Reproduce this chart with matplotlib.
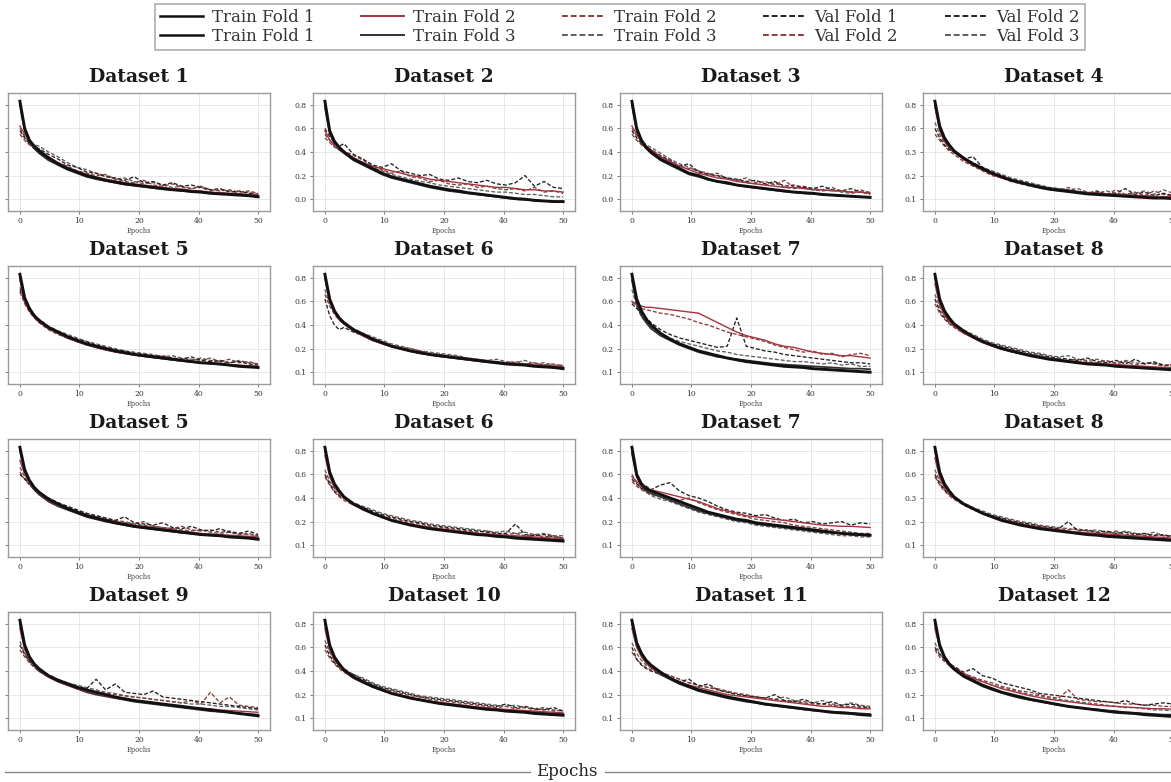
import numpy as np
import matplotlib
matplotlib.use("Agg")
import matplotlib.pyplot as plt
from matplotlib.lines import Line2D

# ---------------- data ----------------
epochs = [0, 1, 2, 3, 4, 6, 8, 10, 12, 14, 16, 18, 20, 22, 24, 26, 28, 30, 32, 34, 36, 38, 40, 42, 44, 46, 48, 50]

titles = ["Dataset 1", "Dataset 2", "Dataset 3", "Dataset 4",
          "Dataset 5", "Dataset 6", "Dataset 7", "Dataset 8",
          "Dataset 5", "Dataset 6", "Dataset 7", "Dataset 8",
          "Dataset 9", "Dataset 10", "Dataset 11", "Dataset 12"]

xtick_labels = ["0", "10", "20", "40", "50"]

ytick_labels = [
    [], ["0.0", "0.2", "0.4", "0.6", "0.8"], ["0.0", "0.2", "0.4", "0.6", "0.8"], ["0.1", "0.2", "0.3", "0.6", "0.8"],
    [], ["0.1", "0.2", "0.4", "0.6", "0.8"], ["0.1", "0.2", "0.4", "0.6", "0.8"], ["0.1", "0.2", "0.4", "0.6", "0.8"],
    [], ["0.1", "0.2", "0.4", "0.6", "0.8"], ["0.1", "0.2", "0.4", "0.6", "0.8"], ["0.1", "0.2", "0.3", "0.6", "0.8"],
    [], ["0.1", "0.2", "0.4", "0.6", "0.8"], ["0.1", "0.2", "0.4", "0.6", "0.8"], ["0.1", "0.2", "0.3", "0.6", "0.8"],
]

legend_labels = ["Train Fold 1", "Train Fold 1", "Train Fold 2", "Train Fold 3", "Train Fold 2",
                 "Train Fold 3", "Val Fold 1", "Val Fold 2", "Val Fold 2", "Val Fold 3"]

train_f1 = [
    [0.83,0.60,0.50,0.45,0.41,0.35,0.30,0.26,0.23,0.20,0.18,0.16,0.145,0.13,0.12,0.11,0.10,0.09,0.08,0.075,0.065,0.06,0.05,0.045,0.04,0.035,0.03,0.02],
    [0.83,0.58,0.49,0.44,0.40,0.34,0.30,0.26,0.22,0.19,0.17,0.15,0.13,0.11,0.095,0.08,0.07,0.055,0.045,0.035,0.025,0.015,0.005,0.0,-0.01,-0.015,-0.02,-0.02],
    [0.83,0.60,0.50,0.44,0.40,0.34,0.30,0.26,0.22,0.20,0.17,0.15,0.14,0.12,0.11,0.10,0.09,0.08,0.07,0.06,0.055,0.05,0.04,0.035,0.03,0.025,0.02,0.015],
    [0.83,0.62,0.52,0.46,0.41,0.35,0.30,0.26,0.22,0.19,0.16,0.14,0.12,0.10,0.085,0.075,0.065,0.055,0.045,0.04,0.035,0.03,0.025,0.02,0.015,0.01,0.01,0.005],
    [0.83,0.63,0.54,0.48,0.44,0.38,0.34,0.30,0.27,0.24,0.22,0.20,0.18,0.165,0.15,0.14,0.13,0.12,0.11,0.10,0.09,0.08,0.075,0.07,0.06,0.05,0.045,0.04],
    [0.83,0.62,0.52,0.46,0.42,0.36,0.32,0.28,0.25,0.22,0.20,0.18,0.165,0.15,0.14,0.13,0.12,0.11,0.10,0.09,0.08,0.07,0.065,0.06,0.05,0.045,0.04,0.03],
    [0.83,0.62,0.52,0.45,0.40,0.33,0.28,0.24,0.21,0.18,0.16,0.14,0.12,0.105,0.09,0.08,0.07,0.06,0.05,0.045,0.04,0.03,0.025,0.02,0.015,0.01,0.005,0.0],
    [0.83,0.62,0.52,0.46,0.41,0.35,0.30,0.26,0.23,0.20,0.18,0.16,0.14,0.125,0.11,0.10,0.09,0.08,0.07,0.065,0.06,0.05,0.045,0.04,0.035,0.03,0.025,0.02],
    [0.83,0.64,0.55,0.49,0.45,0.39,0.35,0.31,0.28,0.25,0.23,0.21,0.19,0.175,0.16,0.15,0.14,0.13,0.12,0.11,0.10,0.09,0.085,0.08,0.07,0.065,0.06,0.05],
    [0.83,0.62,0.52,0.46,0.41,0.35,0.31,0.27,0.24,0.21,0.19,0.17,0.155,0.14,0.13,0.12,0.11,0.10,0.09,0.085,0.075,0.07,0.06,0.055,0.05,0.045,0.04,0.035],
    [0.83,0.60,0.52,0.48,0.46,0.43,0.40,0.37,0.34,0.31,0.28,0.26,0.24,0.22,0.21,0.19,0.18,0.17,0.16,0.15,0.14,0.13,0.12,0.11,0.10,0.095,0.09,0.085],
    [0.83,0.62,0.52,0.46,0.41,0.35,0.31,0.27,0.24,0.21,0.19,0.17,0.155,0.14,0.13,0.12,0.11,0.10,0.09,0.085,0.075,0.07,0.065,0.06,0.055,0.05,0.045,0.04],
    [0.83,0.62,0.52,0.46,0.42,0.36,0.32,0.29,0.26,0.24,0.22,0.20,0.18,0.165,0.15,0.14,0.13,0.12,0.11,0.10,0.09,0.08,0.07,0.06,0.05,0.04,0.03,0.02],
    [0.83,0.62,0.52,0.46,0.41,0.35,0.31,0.27,0.24,0.21,0.19,0.17,0.155,0.14,0.125,0.115,0.105,0.095,0.085,0.075,0.07,0.06,0.055,0.05,0.04,0.035,0.03,0.025],
    [0.83,0.64,0.55,0.49,0.45,0.39,0.34,0.30,0.27,0.24,0.22,0.20,0.18,0.165,0.15,0.135,0.12,0.11,0.10,0.09,0.08,0.07,0.06,0.05,0.045,0.04,0.03,0.025],
    [0.83,0.62,0.52,0.46,0.42,0.36,0.32,0.28,0.25,0.22,0.20,0.18,0.16,0.145,0.13,0.115,0.10,0.09,0.08,0.07,0.06,0.05,0.045,0.04,0.03,0.025,0.02,0.015],
]

train_f2 = [
    [0.62,0.55,0.49,0.45,0.42,0.36,0.31,0.27,0.24,0.21,0.19,0.17,0.155,0.14,0.13,0.12,0.11,0.10,0.09,0.085,0.075,0.07,0.06,0.055,0.05,0.045,0.04,0.035],
    [0.58,0.50,0.46,0.43,0.40,0.35,0.31,0.28,0.26,0.24,0.22,0.20,0.19,0.17,0.16,0.15,0.14,0.13,0.12,0.11,0.10,0.10,0.09,0.08,0.08,0.07,0.07,0.06],
    [0.62,0.55,0.49,0.45,0.42,0.36,0.32,0.28,0.25,0.22,0.20,0.18,0.17,0.15,0.14,0.13,0.12,0.11,0.10,0.10,0.09,0.08,0.08,0.07,0.07,0.06,0.06,0.05],
    [0.78,0.58,0.49,0.44,0.40,0.34,0.29,0.25,0.21,0.18,0.16,0.14,0.12,0.105,0.09,0.08,0.07,0.06,0.055,0.05,0.045,0.04,0.035,0.03,0.03,0.025,0.02,0.02],
    [0.78,0.60,0.52,0.47,0.43,0.37,0.33,0.29,0.26,0.23,0.21,0.19,0.17,0.16,0.145,0.135,0.125,0.115,0.105,0.095,0.085,0.08,0.075,0.07,0.065,0.06,0.055,0.05],
    [0.79,0.60,0.51,0.45,0.41,0.35,0.31,0.27,0.24,0.215,0.195,0.175,0.16,0.145,0.135,0.125,0.115,0.105,0.095,0.09,0.08,0.075,0.07,0.065,0.06,0.055,0.05,0.045],
    [0.60,0.57,0.56,0.55,0.55,0.54,0.53,0.52,0.51,0.50,0.46,0.42,0.38,0.34,0.31,0.29,0.27,0.24,0.22,0.21,0.19,0.17,0.16,0.15,0.14,0.14,0.13,0.12],
    [0.75,0.57,0.48,0.43,0.39,0.33,0.29,0.25,0.22,0.195,0.175,0.155,0.14,0.125,0.115,0.105,0.095,0.085,0.08,0.075,0.07,0.065,0.06,0.055,0.05,0.045,0.04,0.04],
    [0.72,0.60,0.53,0.48,0.44,0.38,0.34,0.31,0.28,0.255,0.235,0.215,0.20,0.185,0.17,0.16,0.15,0.14,0.13,0.12,0.11,0.10,0.095,0.09,0.085,0.08,0.075,0.07],
    [0.76,0.58,0.49,0.44,0.40,0.34,0.30,0.27,0.24,0.215,0.195,0.18,0.165,0.15,0.14,0.13,0.12,0.11,0.10,0.095,0.09,0.085,0.08,0.075,0.07,0.065,0.06,0.055],
    [0.58,0.54,0.50,0.48,0.47,0.45,0.43,0.41,0.39,0.37,0.34,0.31,0.29,0.27,0.25,0.24,0.23,0.22,0.21,0.20,0.19,0.18,0.17,0.165,0.16,0.16,0.155,0.15],
    [0.74,0.57,0.49,0.44,0.40,0.35,0.31,0.27,0.24,0.22,0.20,0.18,0.165,0.15,0.14,0.13,0.12,0.11,0.105,0.10,0.095,0.09,0.085,0.08,0.075,0.07,0.065,0.06],
    [0.76,0.58,0.50,0.45,0.41,0.35,0.31,0.28,0.25,0.23,0.21,0.19,0.17,0.16,0.15,0.14,0.13,0.12,0.11,0.10,0.09,0.085,0.08,0.07,0.065,0.06,0.055,0.05],
    [0.76,0.58,0.49,0.44,0.40,0.34,0.30,0.27,0.24,0.215,0.195,0.175,0.16,0.145,0.135,0.125,0.115,0.105,0.095,0.09,0.08,0.075,0.07,0.065,0.06,0.055,0.05,0.045],
    [0.76,0.60,0.52,0.47,0.43,0.38,0.34,0.31,0.28,0.26,0.24,0.22,0.20,0.19,0.18,0.17,0.16,0.15,0.14,0.13,0.12,0.11,0.10,0.10,0.09,0.09,0.08,0.08],
    [0.76,0.60,0.52,0.47,0.43,0.38,0.34,0.31,0.28,0.25,0.23,0.21,0.19,0.175,0.16,0.15,0.14,0.13,0.12,0.11,0.105,0.10,0.095,0.09,0.085,0.08,0.08,0.075],
]

train_f3 = [
    [0.80,0.58,0.48,0.43,0.39,0.33,0.29,0.25,0.22,0.19,0.17,0.155,0.14,0.125,0.115,0.105,0.095,0.085,0.08,0.07,0.065,0.06,0.055,0.05,0.045,0.04,0.035,0.03],
    [0.78,0.56,0.47,0.42,0.39,0.33,0.29,0.25,0.21,0.18,0.16,0.14,0.12,0.10,0.085,0.07,0.06,0.05,0.04,0.03,0.02,0.01,0.0,-0.005,-0.01,-0.015,-0.02,-0.025],
    [0.80,0.58,0.48,0.43,0.39,0.33,0.29,0.25,0.21,0.19,0.165,0.15,0.13,0.12,0.105,0.095,0.085,0.075,0.065,0.06,0.05,0.045,0.04,0.035,0.03,0.025,0.02,0.02],
    [0.80,0.60,0.50,0.44,0.40,0.34,0.29,0.25,0.22,0.19,0.165,0.145,0.125,0.11,0.095,0.085,0.075,0.065,0.055,0.05,0.045,0.04,0.035,0.03,0.025,0.02,0.02,0.015],
    [0.80,0.61,0.53,0.47,0.43,0.37,0.33,0.29,0.26,0.235,0.21,0.19,0.175,0.16,0.15,0.135,0.125,0.115,0.105,0.095,0.09,0.08,0.075,0.065,0.06,0.055,0.05,0.045],
    [0.81,0.61,0.51,0.45,0.41,0.35,0.31,0.27,0.245,0.22,0.20,0.18,0.16,0.15,0.135,0.125,0.115,0.105,0.095,0.085,0.08,0.07,0.065,0.06,0.055,0.05,0.045,0.04],
    [0.78,0.58,0.48,0.42,0.37,0.31,0.27,0.23,0.20,0.17,0.15,0.13,0.12,0.11,0.10,0.09,0.08,0.07,0.065,0.06,0.055,0.05,0.045,0.04,0.035,0.03,0.03,0.025],
    [0.80,0.60,0.50,0.44,0.40,0.34,0.30,0.26,0.225,0.20,0.175,0.16,0.145,0.13,0.115,0.105,0.095,0.085,0.075,0.07,0.065,0.06,0.05,0.045,0.04,0.035,0.03,0.03],
    [0.80,0.62,0.53,0.47,0.43,0.37,0.33,0.30,0.27,0.24,0.22,0.20,0.185,0.17,0.155,0.145,0.135,0.125,0.115,0.105,0.10,0.09,0.085,0.08,0.075,0.07,0.065,0.06],
    [0.80,0.60,0.50,0.45,0.40,0.35,0.30,0.27,0.24,0.21,0.19,0.175,0.16,0.145,0.135,0.125,0.115,0.105,0.095,0.09,0.08,0.075,0.07,0.065,0.06,0.055,0.05,0.045],
    [0.78,0.58,0.50,0.46,0.44,0.41,0.38,0.35,0.32,0.29,0.27,0.25,0.23,0.21,0.20,0.18,0.17,0.16,0.15,0.14,0.13,0.12,0.11,0.105,0.10,0.09,0.085,0.08],
    [0.80,0.60,0.50,0.45,0.40,0.35,0.31,0.27,0.24,0.215,0.195,0.175,0.16,0.145,0.135,0.125,0.115,0.105,0.095,0.09,0.085,0.08,0.075,0.07,0.065,0.06,0.055,0.05],
    [0.80,0.60,0.50,0.45,0.40,0.35,0.31,0.28,0.25,0.22,0.20,0.185,0.17,0.155,0.14,0.13,0.12,0.11,0.10,0.09,0.08,0.07,0.06,0.055,0.05,0.04,0.035,0.03],
    [0.80,0.60,0.50,0.45,0.40,0.34,0.30,0.265,0.235,0.21,0.19,0.17,0.155,0.14,0.13,0.12,0.11,0.10,0.09,0.08,0.075,0.065,0.06,0.055,0.05,0.045,0.04,0.035],
    [0.80,0.62,0.53,0.47,0.43,0.37,0.33,0.29,0.26,0.23,0.21,0.19,0.17,0.155,0.14,0.13,0.115,0.105,0.095,0.085,0.075,0.065,0.06,0.055,0.05,0.045,0.04,0.035],
    [0.80,0.60,0.51,0.45,0.41,0.35,0.31,0.27,0.24,0.215,0.19,0.17,0.155,0.14,0.125,0.11,0.10,0.09,0.08,0.075,0.065,0.06,0.05,0.045,0.04,0.035,0.03,0.03],
]

val_f1 = [
    [0.58,0.52,0.47,0.44,0.43,0.38,0.34,0.29,0.27,0.23,0.22,0.19,0.18,0.16,0.19,0.14,0.15,0.12,0.14,0.11,0.12,0.10,0.08,0.09,0.06,0.07,0.05,0.04],
    [0.60,0.53,0.48,0.45,0.47,0.38,0.34,0.29,0.27,0.30,0.24,0.22,0.20,0.21,0.17,0.16,0.18,0.15,0.14,0.16,0.13,0.12,0.14,0.20,0.11,0.15,0.10,0.09],
    [0.58,0.52,0.47,0.44,0.42,0.37,0.33,0.28,0.30,0.23,0.21,0.20,0.18,0.17,0.15,0.16,0.13,0.15,0.11,0.12,0.10,0.09,0.11,0.08,0.07,0.09,0.06,0.06],
    [0.60,0.52,0.46,0.42,0.40,0.34,0.36,0.27,0.23,0.20,0.17,0.15,0.13,0.11,0.09,0.08,0.07,0.06,0.05,0.07,0.04,0.05,0.09,0.04,0.06,0.03,0.05,0.03],
    [0.70,0.60,0.52,0.47,0.44,0.38,0.35,0.31,0.28,0.26,0.23,0.21,0.19,0.18,0.16,0.15,0.14,0.13,0.12,0.11,0.13,0.10,0.09,0.10,0.08,0.09,0.07,0.06],
    [0.62,0.48,0.40,0.36,0.38,0.34,0.31,0.27,0.25,0.22,0.20,0.18,0.17,0.15,0.14,0.13,0.12,0.11,0.10,0.09,0.09,0.08,0.07,0.07,0.06,0.06,0.05,0.05],
    [0.58,0.54,0.50,0.46,0.42,0.36,0.32,0.29,0.27,0.25,0.23,0.21,0.22,0.46,0.22,0.20,0.18,0.17,0.15,0.14,0.13,0.12,0.11,0.10,0.09,0.08,0.08,0.07],
    [0.62,0.52,0.46,0.42,0.39,0.34,0.31,0.27,0.24,0.22,0.20,0.18,0.16,0.15,0.13,0.12,0.11,0.10,0.12,0.09,0.08,0.10,0.07,0.11,0.07,0.08,0.06,0.06],
    [0.60,0.56,0.52,0.48,0.45,0.40,0.36,0.33,0.30,0.27,0.25,0.23,0.21,0.24,0.19,0.18,0.17,0.19,0.15,0.14,0.16,0.13,0.12,0.14,0.11,0.10,0.12,0.09],
    [0.60,0.52,0.46,0.42,0.40,0.35,0.32,0.29,0.26,0.24,0.22,0.20,0.19,0.17,0.16,0.15,0.14,0.13,0.12,0.11,0.10,0.10,0.18,0.09,0.08,0.09,0.07,0.06],
    [0.56,0.52,0.48,0.50,0.47,0.51,0.53,0.46,0.42,0.40,0.37,0.33,0.30,0.28,0.27,0.25,0.26,0.23,0.21,0.22,0.19,0.20,0.18,0.19,0.20,0.17,0.19,0.18],
    [0.60,0.52,0.47,0.43,0.40,0.35,0.31,0.28,0.25,0.23,0.21,0.19,0.18,0.16,0.15,0.14,0.20,0.12,0.13,0.11,0.12,0.10,0.11,0.09,0.10,0.08,0.09,0.07],
    [0.62,0.54,0.48,0.44,0.41,0.36,0.33,0.30,0.27,0.25,0.33,0.24,0.29,0.22,0.21,0.20,0.23,0.18,0.17,0.16,0.15,0.14,0.13,0.12,0.11,0.10,0.09,0.08],
    [0.62,0.53,0.47,0.43,0.40,0.37,0.33,0.29,0.26,0.24,0.22,0.20,0.18,0.17,0.16,0.15,0.14,0.13,0.12,0.11,0.10,0.12,0.09,0.10,0.08,0.07,0.09,0.06],
    [0.60,0.50,0.45,0.42,0.40,0.37,0.34,0.31,0.33,0.27,0.29,0.24,0.22,0.20,0.19,0.18,0.17,0.20,0.15,0.14,0.16,0.13,0.12,0.14,0.11,0.12,0.10,0.09],
    [0.60,0.54,0.50,0.46,0.44,0.39,0.42,0.36,0.34,0.30,0.28,0.26,0.24,0.21,0.20,0.19,0.18,0.17,0.16,0.15,0.14,0.13,0.15,0.12,0.11,0.12,0.13,0.12],
]

val_f2 = [
    [0.55,0.50,0.46,0.43,0.40,0.35,0.31,0.28,0.24,0.22,0.20,0.21,0.17,0.15,0.14,0.16,0.12,0.11,0.13,0.10,0.09,0.11,0.08,0.07,0.08,0.06,0.07,0.05],
    [0.55,0.50,0.45,0.42,0.41,0.37,0.33,0.28,0.25,0.22,0.24,0.19,0.18,0.15,0.16,0.13,0.12,0.13,0.10,0.11,0.09,0.08,0.09,0.07,0.10,0.06,0.07,0.05],
    [0.55,0.50,0.46,0.43,0.41,0.36,0.32,0.28,0.26,0.24,0.21,0.22,0.17,0.16,0.18,0.14,0.15,0.12,0.16,0.10,0.11,0.09,0.08,0.10,0.07,0.06,0.08,0.05],
    [0.55,0.50,0.45,0.41,0.38,0.32,0.28,0.24,0.20,0.18,0.15,0.13,0.11,0.10,0.08,0.07,0.10,0.06,0.05,0.06,0.04,0.08,0.04,0.06,0.03,0.07,0.04,0.03],
    [0.68,0.58,0.51,0.46,0.42,0.36,0.32,0.29,0.26,0.24,0.22,0.20,0.19,0.17,0.16,0.15,0.14,0.14,0.12,0.11,0.10,0.12,0.10,0.09,0.11,0.08,0.09,0.07],
    [0.66,0.56,0.49,0.44,0.41,0.36,0.33,0.29,0.26,0.23,0.21,0.20,0.18,0.16,0.15,0.14,0.13,0.12,0.11,0.10,0.09,0.08,0.09,0.07,0.08,0.06,0.07,0.05],
    [0.60,0.56,0.54,0.53,0.52,0.50,0.49,0.47,0.45,0.42,0.40,0.37,0.34,0.32,0.30,0.28,0.26,0.23,0.21,0.19,0.17,0.18,0.15,0.16,0.13,0.15,0.16,0.14],
    [0.58,0.50,0.45,0.41,0.38,0.33,0.30,0.26,0.23,0.21,0.19,0.17,0.15,0.14,0.12,0.11,0.10,0.11,0.09,0.08,0.10,0.07,0.09,0.06,0.08,0.07,0.05,0.07],
    [0.62,0.56,0.51,0.47,0.44,0.39,0.35,0.32,0.29,0.26,0.24,0.22,0.20,0.19,0.18,0.20,0.16,0.15,0.14,0.16,0.13,0.12,0.13,0.11,0.12,0.10,0.09,0.08],
    [0.58,0.51,0.45,0.41,0.38,0.34,0.31,0.28,0.25,0.23,0.21,0.19,0.18,0.16,0.15,0.14,0.13,0.12,0.11,0.12,0.10,0.09,0.10,0.08,0.09,0.07,0.08,0.06],
    [0.54,0.50,0.47,0.45,0.43,0.41,0.40,0.38,0.40,0.36,0.33,0.30,0.28,0.26,0.24,0.22,0.21,0.20,0.19,0.17,0.16,0.15,0.14,0.13,0.12,0.11,0.10,0.10],
    [0.58,0.51,0.46,0.42,0.39,0.34,0.30,0.27,0.25,0.23,0.20,0.19,0.17,0.16,0.15,0.14,0.13,0.14,0.12,0.11,0.10,0.12,0.09,0.10,0.08,0.09,0.08,0.07],
    [0.58,0.52,0.47,0.43,0.40,0.35,0.32,0.29,0.26,0.24,0.22,0.21,0.20,0.19,0.18,0.17,0.16,0.15,0.14,0.13,0.15,0.12,0.22,0.13,0.18,0.11,0.10,0.09],
    [0.58,0.51,0.46,0.42,0.39,0.34,0.31,0.28,0.25,0.23,0.21,0.19,0.18,0.16,0.15,0.14,0.13,0.12,0.11,0.10,0.09,0.10,0.08,0.09,0.07,0.08,0.06,0.07],
    [0.56,0.50,0.46,0.43,0.41,0.38,0.36,0.33,0.30,0.28,0.26,0.25,0.23,0.21,0.20,0.18,0.17,0.16,0.15,0.14,0.13,0.12,0.12,0.11,0.10,0.10,0.09,0.09],
    [0.58,0.52,0.48,0.45,0.42,0.38,0.35,0.32,0.30,0.27,0.25,0.23,0.22,0.20,0.18,0.17,0.24,0.16,0.15,0.14,0.14,0.13,0.12,0.12,0.11,0.11,0.10,0.10],
]

val_f3 = [
    [0.60,0.53,0.48,0.46,0.45,0.40,0.36,0.31,0.27,0.25,0.22,0.20,0.17,0.18,0.15,0.13,0.14,0.12,0.10,0.11,0.09,0.10,0.07,0.08,0.07,0.05,0.06,0.04],
    [0.52,0.48,0.44,0.42,0.40,0.35,0.31,0.27,0.24,0.21,0.19,0.17,0.15,0.14,0.12,0.11,0.10,0.09,0.08,0.07,0.06,0.06,0.05,0.04,0.04,0.03,0.02,0.02],
    [0.60,0.54,0.49,0.46,0.44,0.39,0.34,0.30,0.27,0.24,0.22,0.19,0.18,0.16,0.14,0.13,0.12,0.14,0.10,0.09,0.10,0.08,0.07,0.08,0.06,0.05,0.06,0.04],
    [0.65,0.55,0.48,0.44,0.41,0.35,0.31,0.27,0.24,0.21,0.18,0.16,0.14,0.12,0.10,0.09,0.08,0.09,0.06,0.05,0.07,0.05,0.04,0.05,0.07,0.04,0.08,0.05],
    [0.72,0.61,0.53,0.48,0.45,0.39,0.35,0.32,0.29,0.26,0.24,0.22,0.20,0.18,0.17,0.16,0.15,0.13,0.14,0.12,0.11,0.10,0.12,0.09,0.08,0.10,0.08,0.07],
    [0.70,0.58,0.50,0.45,0.42,0.37,0.33,0.30,0.27,0.24,0.22,0.20,0.18,0.17,0.16,0.15,0.14,0.12,0.11,0.10,0.11,0.09,0.08,0.10,0.07,0.08,0.06,0.06],
    [0.70,0.56,0.47,0.42,0.38,0.33,0.29,0.26,0.24,0.22,0.20,0.18,0.17,0.15,0.14,0.13,0.12,0.11,0.10,0.09,0.09,0.08,0.07,0.08,0.06,0.07,0.05,0.05],
    [0.66,0.55,0.48,0.44,0.41,0.36,0.32,0.28,0.25,0.23,0.21,0.19,0.17,0.16,0.14,0.13,0.14,0.11,0.10,0.11,0.09,0.08,0.10,0.08,0.07,0.09,0.06,0.05],
    [0.66,0.58,0.52,0.48,0.45,0.40,0.36,0.32,0.29,0.27,0.25,0.23,0.21,0.20,0.18,0.17,0.16,0.15,0.14,0.13,0.12,0.13,0.11,0.10,0.11,0.09,0.10,0.08],
    [0.64,0.54,0.48,0.44,0.41,0.36,0.33,0.30,0.27,0.25,0.23,0.21,0.20,0.18,0.17,0.16,0.15,0.14,0.13,0.12,0.11,0.12,0.10,0.11,0.09,0.10,0.08,0.08],
    [0.60,0.53,0.48,0.45,0.42,0.39,0.37,0.34,0.31,0.28,0.26,0.24,0.22,0.20,0.19,0.17,0.16,0.15,0.14,0.13,0.12,0.11,0.10,0.09,0.08,0.08,0.07,0.07],
    [0.64,0.54,0.48,0.44,0.41,0.36,0.32,0.29,0.26,0.24,0.22,0.20,0.19,0.17,0.16,0.15,0.14,0.13,0.12,0.13,0.11,0.10,0.12,0.10,0.09,0.11,0.08,0.08],
    [0.65,0.55,0.49,0.45,0.42,0.37,0.33,0.30,0.28,0.26,0.24,0.22,0.21,0.19,0.18,0.17,0.16,0.15,0.14,0.13,0.12,0.12,0.11,0.10,0.10,0.09,0.08,0.07],
    [0.66,0.56,0.49,0.45,0.42,0.37,0.34,0.30,0.27,0.25,0.23,0.21,0.19,0.18,0.17,0.16,0.15,0.14,0.13,0.12,0.11,0.10,0.11,0.09,0.08,0.09,0.07,0.06],
    [0.64,0.55,0.49,0.45,0.43,0.39,0.36,0.33,0.30,0.28,0.26,0.24,0.22,0.21,0.19,0.18,0.17,0.16,0.18,0.15,0.14,0.13,0.15,0.12,0.11,0.13,0.11,0.10],
    [0.64,0.55,0.49,0.45,0.42,0.37,0.34,0.31,0.28,0.26,0.24,0.22,0.20,0.19,0.17,0.16,0.15,0.14,0.13,0.12,0.11,0.10,0.09,0.09,0.08,0.07,0.07,0.06],
]

# ---------------- styles ----------------
plt.rcParams['font.family'] = ['DejaVu Serif']
styles = {
    'tr1': dict(color='#111111', lw=2.1, ls='-'),
    'tr2': dict(color='#a5323f', lw=1.0, ls='-'),
    'tr3': dict(color='#333333', lw=1.3, ls='-'),
    'v1': dict(color='#222222', lw=0.95, ls=(0, (3, 1.5))),
    'v2': dict(color='#8c3b3b', lw=0.95, ls=(0, (3, 1.5))),
    'v3': dict(color='#5e5e5e', lw=0.95, ls=(0, (3, 1.5))),
}

W, H = 1171, 782
fig = plt.figure(figsize=(W / 100, H / 100), dpi=100)
fig.patch.set_facecolor('white')

col_left = [8, 313, 620, 923]
row_top = [93, 266, 439, 612]
aw, ah = 262, 118
xtick_pos = [0, 12.5, 25, 37.5, 50]
ytick_pos = [0.0, 0.2, 0.4, 0.6, 0.8]

series = [(train_f1, 'tr1'), (train_f2, 'tr2'), (train_f3, 'tr3'),
          (val_f1, 'v1'), (val_f2, 'v2'), (val_f3, 'v3')]

for i in range(16):
    r, c = divmod(i, 4)
    ax = fig.add_axes([col_left[c] / W, 1 - (row_top[r] + ah) / H, aw / W, ah / H])
    for data, key in series[::-1]:
        ax.plot(epochs, data[i], **styles[key])
    ax.set_xlim(-2.5, 52.5)
    ax.set_ylim(-0.1, 0.9)
    ax.set_xticks(xtick_pos)
    ax.set_xticklabels(xtick_labels)
    ax.set_yticks(ytick_pos)
    if ytick_labels[i]:
        ax.set_yticklabels(ytick_labels[i])
    else:
        ax.set_yticklabels([])
        ax.tick_params(axis='y', length=0)
    ax.grid(True, color='#e4e4e4', lw=0.6)
    ax.set_axisbelow(True)
    for s in ax.spines.values():
        s.set_color('#9a9a9a')
        s.set_linewidth(1.0)
    ax.tick_params(labelsize=5.5, length=2.5, width=0.6, colors='#666666', labelcolor='#333333', pad=2)
    ax.set_xlabel('Epochs', fontsize=4.8, labelpad=1, color='#444444')
    ax.set_title(titles[i], fontsize=13.5, fontweight='bold', pad=8, color='#1a1a1a')

# legend
handle_keys = ['tr1', 'tr1', 'tr2', 'tr3', 'v2', 'v3', 'v1', 'v2', 'v1', 'v3']
handles = []
for k in handle_keys:
    st = dict(styles[k])
    st['lw'] = 1.4 if k != 'tr1' else 1.8
    handles.append(Line2D([], [], **st))
leg = fig.legend(handles, legend_labels, ncol=5, loc='upper center',
                 bbox_to_anchor=(620 / W, 1 - 4 / H), fontsize=12,
                 frameon=True, fancybox=False, edgecolor='#999999',
                 handlelength=2.6, handletextpad=0.5, columnspacing=2.8,
                 borderpad=0.3, labelspacing=0.12, borderaxespad=0)
leg.get_frame().set_linewidth(1.2)
for t in leg.get_texts():
    t.set_color('#333333')

# bottom shared label
fig.text(567 / W, 1 - 771 / H, 'Epochs', ha='center', va='center', fontsize=12, color='#222222')
fig.add_artist(Line2D([5 / W, 530 / W], [1 - 772 / H] * 2, color='#888888', lw=1.0))
fig.add_artist(Line2D([605 / W, 1171 / W], [1 - 772 / H] * 2, color='#888888', lw=1.0))

fig.savefig('out.png', dpi=100)
